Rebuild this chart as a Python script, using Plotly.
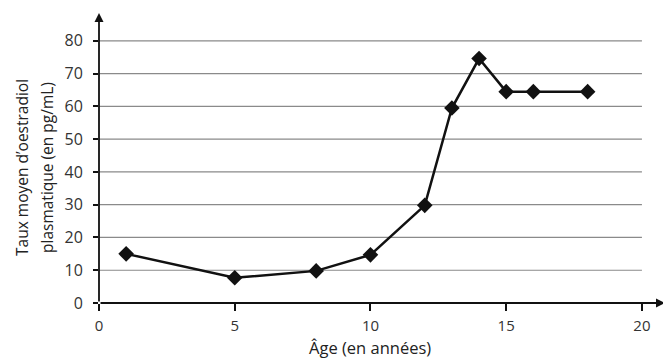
import plotly.graph_objects as go

ages = [1, 5, 8, 10, 12, 13, 14, 15, 16, 18]
oestradiol = [15, 7.7, 9.8, 14.7, 29.8, 59.5, 74.6, 64.5, 64.5, 64.5]
y_ticks = [0, 10, 20, 30, 40, 50, 60, 70, 80]
x_ticks = [0, 5, 10, 15, 20]

FONT = "Open Sans"
fig = go.Figure()
fig.add_trace(go.Scatter(
    x=ages, y=oestradiol, mode="lines+markers",
    line=dict(color="#111111", width=2.5),
    marker=dict(symbol="diamond", size=12, color="#111111"),
    showlegend=False, cliponaxis=False,
))

shapes = []
for t in y_ticks[1:]:
    shapes.append(dict(type="line", xref="x", yref="y", x0=0, x1=20, y0=t, y1=t,
                       line=dict(color="#8a8a8a", width=1.2), layer="below"))
fig.update_layout(shapes=shapes)

# axes with arrows
fig.add_annotation(x=20.85, y=0, ax=0, ay=0, xref="x", yref="y", axref="x", ayref="y",
                   showarrow=True, arrowhead=2, arrowsize=1, arrowwidth=1.8, arrowcolor="#111111", text="")
fig.add_annotation(x=0, y=88.5, ax=0, ay=0, xref="x", yref="y", axref="x", ayref="y",
                   showarrow=True, arrowhead=2, arrowsize=1, arrowwidth=1.8, arrowcolor="#111111", text="")

fig.add_annotation(x=10, y=0, xref="x", yref="paper", yshift=-44, yanchor="middle",
                   text="Âge (en années)", showarrow=False,
                   font=dict(family=FONT, size=16.5, color="#222222"))

# y title as two lines
ytitle_lines = ["Taux moyen d’oestradiol", "plasmatique (en pg/mL)"]
for i, line in enumerate(ytitle_lines):
    fig.add_annotation(x=0, y=0.5, xref="paper", yref="paper", xshift=-77 + 25 * i, yshift=-10,
                       text=line, textangle=-90, showarrow=False, xanchor="center", yanchor="middle",
                       font=dict(family=FONT, size=15.5, color="#222222"))

fig.update_xaxes(range=[0, 20.85], tickvals=x_ticks, ticks="outside", ticklen=7, tickwidth=2,
                 tickcolor="#111111", showgrid=False, zeroline=False, showline=False,
                 automargin=False, ticklabelstandoff=2,
                 tickfont=dict(family=FONT, size=15, color="#333333"))
fig.update_yaxes(range=[0, 88.5], tickvals=y_ticks, ticks="outside", ticklen=5, tickwidth=2,
                 tickcolor="#111111", showgrid=False, zeroline=False, showline=False,
                 automargin=False, ticklabelstandoff=7,
                 tickfont=dict(family=FONT, size=16, color="#333333"))

fig.update_layout(width=663, height=350, margin=dict(l=91, r=6, t=5, b=55),
                  plot_bgcolor="white", paper_bgcolor="white")
fig.write_html("out.html")
